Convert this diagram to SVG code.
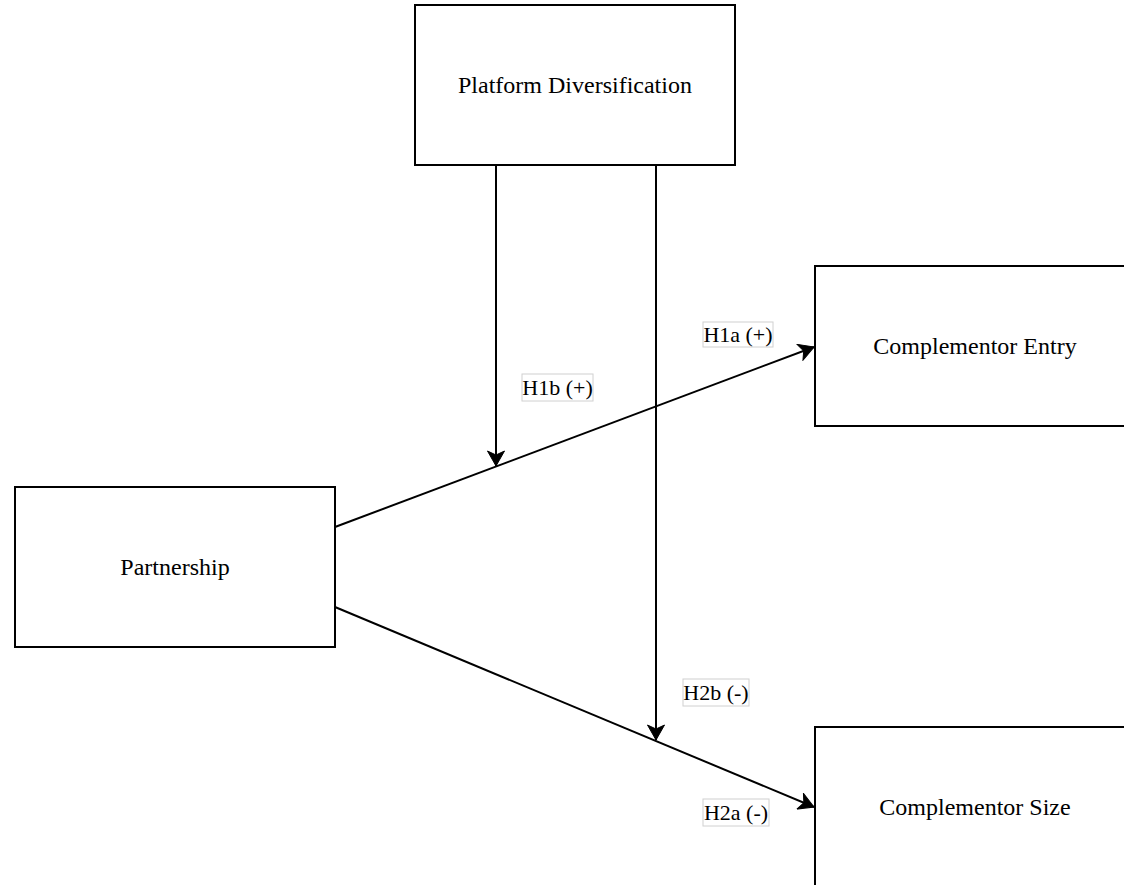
<svg xmlns="http://www.w3.org/2000/svg" width="1124" height="885" viewBox="0 0 1124 885">
<style>
.node rect{fill:#ffffff;stroke:#000000;stroke-width:2}
.node text{font-family:"Liberation Serif","Times New Roman",serif;font-size:24px;fill:#000;text-anchor:middle;dominant-baseline:central}
.edge{fill:none;stroke:#000;stroke-width:2}
.lbl rect{fill:#ffffff;stroke:#d0d0d0;stroke-width:1}
.lbl text{font-family:"Liberation Serif","Times New Roman",serif;font-size:22px;fill:#000;text-anchor:middle;dominant-baseline:central}
</style>
<defs>
<marker id="arr" markerUnits="userSpaceOnUse" viewBox="-16 -9 17 18" refX="0" refY="0" markerWidth="17" markerHeight="18" orient="auto">
<path d="M0,0 L-15,-8.5 L-11,0 L-15,8.5 Z" fill="#000" stroke="#000" stroke-width="1"/>
</marker>
</defs>
<rect width="1124" height="885" fill="#ffffff"/>
<g id="connectors">
<line class="edge" x1="335" y1="527" x2="814" y2="347" marker-end="url(#arr)"/>
<line class="edge" x1="335" y1="607" x2="814" y2="807" marker-end="url(#arr)"/>
<line class="edge" x1="496" y1="165" x2="496" y2="466" marker-end="url(#arr)"/>
<line class="edge" x1="656" y1="165" x2="656" y2="740" marker-end="url(#arr)"/>
<g class="lbl" id="label-h1a"><rect x="703" y="322" width="70" height="25"/><text x="738" y="334.5">H1a (+)</text></g>
<g class="lbl" id="label-h1b"><rect x="522" y="374" width="71" height="27"/><text x="557.5" y="387.5">H1b (+)</text></g>
<g class="lbl" id="label-h2b"><rect x="683" y="679" width="66" height="27"/><text x="716" y="692.5">H2b (-)</text></g>
<g class="lbl" id="label-h2a"><rect x="703" y="799" width="66" height="27"/><text x="736" y="812.5">H2a (-)</text></g>
</g>
<g class="node" id="platform-diversification"><rect x="415" y="5" width="320" height="160"/><text x="575" y="85">Platform Diversification</text></g>
<g class="node" id="complementor-entry"><rect x="815" y="266" width="320" height="160"/><text x="975" y="346">Complementor Entry</text></g>
<g class="node" id="partnership"><rect x="15" y="487" width="320" height="160"/><text x="175" y="567">Partnership</text></g>
<g class="node" id="complementor-size"><rect x="815" y="727" width="320" height="160"/><text x="975" y="807">Complementor Size</text></g>
</svg>
